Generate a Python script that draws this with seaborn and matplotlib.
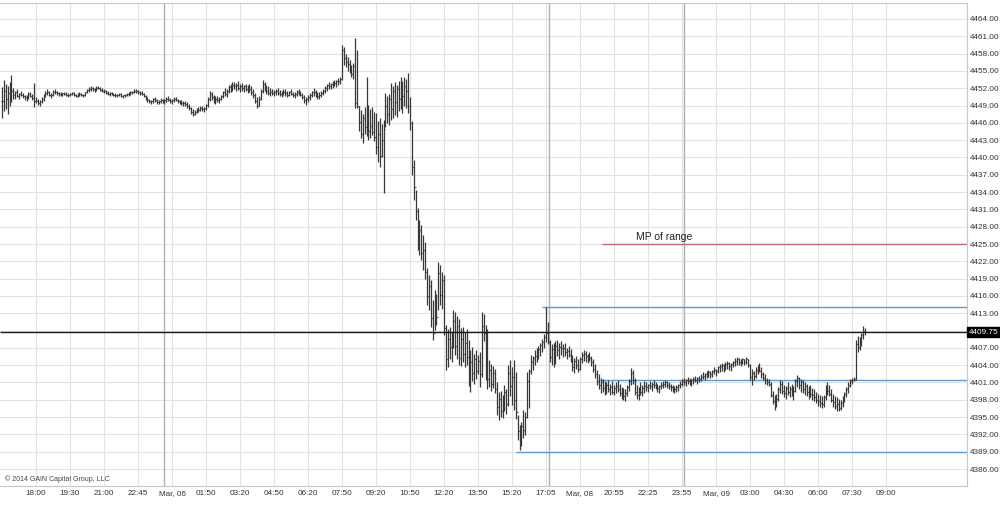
import numpy as np
import matplotlib
matplotlib.use('Agg')
import matplotlib.pyplot as plt
import matplotlib.transforms as mtransforms
from matplotlib import font_manager
import seaborn as sns

high = [
    4452.2, 4453.4, 4452.8, 4452.4, 4453.0, 4454.3, 4452.0, 4451.6, 4451.8, 4451.2,
    4451.5, 4451.1, 4450.9, 4450.8, 4451.3, 4451.4, 4451.0, 4452.9, 4450.4, 4450.2,
    4450.0, 4450.5, 4451.0, 4451.6, 4451.9, 4451.6, 4451.2, 4451.7, 4451.8, 4451.6,
    4451.4, 4451.3, 4451.2, 4451.4, 4451.3, 4451.1, 4451.2, 4451.4, 4451.3, 4451.0,
    4451.1, 4451.3, 4451.2, 4451.0, 4451.4, 4451.9, 4452.2, 4452.4, 4452.2, 4452.1,
    4452.3, 4452.4, 4452.2, 4452.0, 4451.9, 4451.7, 4451.5, 4451.3, 4451.4, 4451.2,
    4451.1, 4451.0, 4451.2, 4451.1, 4450.9, 4451.0, 4451.2, 4451.3, 4451.5, 4451.6,
    4451.8, 4451.9, 4451.7, 4451.6, 4451.5, 4451.2, 4450.8, 4450.4, 4450.2, 4450.0,
    4450.3, 4450.4, 4450.1, 4450.0, 4450.3, 4450.2, 4450.1, 4450.4, 4450.6, 4450.3,
    4450.1, 4450.4, 4450.5, 4450.2, 4450.0, 4449.9, 4449.8, 4449.7, 4449.6, 4449.2,
    4448.8, 4448.4, 4448.2, 4448.5, 4448.7, 4448.9, 4449.0, 4448.8, 4449.3, 4450.4,
    4451.5, 4451.3, 4450.8, 4450.6, 4450.7, 4450.4, 4450.9, 4451.6, 4452.0, 4451.9,
    4452.6, 4452.8, 4453.0, 4453.1, 4452.9, 4453.2, 4452.8, 4452.9, 4452.6, 4452.8,
    4452.5, 4452.7, 4452.3, 4451.8, 4451.2, 4450.4, 4450.6, 4451.8, 4453.4, 4453.0,
    4452.6, 4452.3, 4452.0, 4451.9, 4451.7, 4451.9, 4452.0, 4451.7, 4451.6, 4451.8,
    4451.9, 4451.5, 4451.6, 4451.8, 4451.4, 4451.3, 4451.7, 4451.9, 4451.6, 4451.2,
    4450.8, 4450.5, 4450.9, 4451.2, 4451.6, 4452.0, 4451.7, 4451.4, 4451.3, 4451.6,
    4451.9, 4452.4, 4452.8, 4453.1, 4452.9, 4453.3, 4453.5, 4453.4, 4453.8, 4454.0,
    4459.5, 4459.2, 4458.0, 4457.4, 4456.9, 4456.0, 4456.4, 4460.7, 4458.6, 4448.9,
    4448.2, 4447.6, 4448.7, 4454.0, 4449.1, 4448.4, 4448.8, 4447.9, 4447.7, 4446.4,
    4446.9, 4445.8, 4446.5, 4451.2, 4450.7, 4451.0, 4452.9, 4452.4, 4453.0, 4452.6,
    4453.3, 4454.0, 4453.2, 4454.0, 4453.6, 4454.6, 4450.5, 4446.4, 4439.6, 4434.4,
    4431.3, 4429.2, 4428.3, 4426.6, 4425.4, 4420.8, 4419.6, 4418.8, 4415.3, 4417.0,
    4416.4, 4421.9, 4421.4, 4420.2, 4419.6, 4411.0, 4410.3, 4410.7, 4409.8, 4413.6,
    4413.2, 4412.5, 4412.0, 4410.4, 4410.6, 4409.8, 4410.2, 4408.4, 4406.6, 4407.2,
    4406.0, 4406.6, 4405.8, 4406.2, 4413.3, 4412.8, 4411.0, 4410.2, 4404.9, 4404.2,
    4403.8, 4403.4, 4401.0, 4399.3, 4399.6, 4398.8, 4400.6, 4399.8, 4404.0, 4404.9,
    4403.6, 4404.9, 4402.8, 4395.4, 4393.6, 4394.2, 4396.2, 4395.8, 4402.8, 4403.4,
    4405.8, 4405.6, 4406.6, 4406.9, 4407.4, 4407.9, 4408.6, 4409.4, 4414.1, 4411.4,
    4408.4, 4407.6, 4407.8, 4408.2, 4408.4, 4407.9, 4408.2, 4407.6, 4407.9, 4407.0,
    4407.4, 4406.8, 4405.8, 4405.2, 4405.6, 4405.0, 4405.4, 4406.2, 4406.6, 4406.4,
    4406.0, 4406.2, 4405.6, 4405.0, 4404.2, 4403.2, 4402.4, 4401.8, 4401.6, 4401.2,
    4401.0, 4401.4, 4400.8, 4401.2, 4400.6, 4401.0, 4401.4, 4400.8, 4400.2, 4400.0,
    4399.8, 4400.6, 4401.6, 4403.5, 4403.2, 4401.8, 4400.6, 4400.2, 4401.0, 4400.6,
    4401.2, 4401.0, 4400.8, 4401.2, 4401.0, 4401.4, 4401.0, 4400.8, 4400.6, 4401.0,
    4401.2, 4401.4, 4401.2, 4401.0, 4400.8, 4400.6, 4400.4, 4400.6, 4400.8, 4401.2,
    4401.6, 4401.8, 4401.6, 4402.0, 4401.8, 4401.6, 4402.0, 4402.2, 4402.0, 4402.2,
    4402.4, 4402.8, 4402.6, 4403.0, 4403.2, 4403.0, 4403.2, 4403.6, 4403.4, 4403.8,
    4404.2, 4404.4, 4404.2, 4404.6, 4404.8, 4404.6, 4404.4, 4404.8, 4405.2, 4405.4,
    4405.2, 4405.0, 4405.2, 4405.1, 4405.4, 4405.0, 4404.2, 4403.4, 4403.0, 4403.6,
    4404.0, 4404.4, 4403.6, 4402.8, 4402.4, 4401.8, 4401.6, 4401.0, 4399.6, 4398.8,
    4399.0, 4400.2, 4401.4, 4401.2, 4400.6, 4400.4, 4401.0, 4400.4, 4400.8, 4400.4,
    4401.6, 4402.3, 4402.0, 4401.6, 4401.4, 4401.0, 4400.8, 4400.4, 4400.6, 4400.0,
    4399.8, 4399.4, 4399.0, 4398.8, 4398.6, 4398.8, 4400.6, 4401.0, 4400.6, 4399.8,
    4399.0, 4398.6, 4398.4, 4398.2, 4398.0, 4398.6, 4399.4, 4400.2, 4401.0, 4401.6,
    4401.8, 4402.0, 4408.4, 4409.0, 4408.8, 4409.6, 4410.8, 4410.4,
]

low = [
    4446.9, 4448.0, 4448.4, 4447.6, 4449.0, 4449.6, 4450.2, 4450.1, 4450.5, 4450.2,
    4450.6, 4450.3, 4450.0, 4449.8, 4450.2, 4450.5, 4450.0, 4448.7, 4449.4, 4449.1,
    4449.0, 4449.4, 4449.8, 4450.4, 4450.9, 4450.6, 4450.3, 4450.6, 4451.0, 4450.8,
    4450.7, 4450.6, 4450.6, 4450.8, 4450.7, 4450.5, 4450.6, 4450.8, 4450.7, 4450.4,
    4450.5, 4450.7, 4450.6, 4450.4, 4450.7, 4451.1, 4451.4, 4451.6, 4451.5, 4451.4,
    4451.6, 4451.8, 4451.5, 4451.3, 4451.2, 4451.0, 4450.8, 4450.7, 4450.8, 4450.6,
    4450.5, 4450.4, 4450.6, 4450.5, 4450.3, 4450.4, 4450.6, 4450.7, 4450.9, 4451.0,
    4451.1, 4451.2, 4451.0, 4450.9, 4450.8, 4450.4, 4450.0, 4449.6, 4449.4, 4449.2,
    4449.5, 4449.6, 4449.3, 4449.2, 4449.5, 4449.4, 4449.3, 4449.6, 4449.8, 4449.5,
    4449.3, 4449.6, 4449.7, 4449.4, 4449.2, 4449.1, 4449.0, 4448.9, 4448.6, 4448.2,
    4447.6, 4447.2, 4447.4, 4447.7, 4447.9, 4448.0, 4448.1, 4447.9, 4448.3, 4448.8,
    4449.8, 4450.0, 4449.4, 4449.2, 4449.6, 4449.5, 4449.9, 4450.3, 4450.6, 4450.4,
    4451.2, 4451.4, 4451.5, 4451.8, 4451.6, 4451.7, 4451.4, 4451.6, 4451.3, 4451.5,
    4451.2, 4451.4, 4450.9, 4450.3, 4449.4, 4448.6, 4448.9, 4449.9, 4451.2, 4451.5,
    4451.0, 4450.9, 4450.6, 4450.8, 4450.6, 4450.9, 4450.8, 4450.6, 4450.5, 4450.9,
    4450.7, 4450.5, 4450.6, 4450.8, 4450.4, 4450.3, 4450.6, 4450.9, 4450.6, 4450.1,
    4449.5, 4449.1, 4449.6, 4449.9, 4450.4, 4450.7, 4450.5, 4450.2, 4450.1, 4450.4,
    4450.8, 4451.2, 4451.6, 4451.9, 4451.8, 4452.1, 4452.3, 4452.2, 4452.6, 4452.7,
    4453.4, 4456.0, 4455.6, 4455.0, 4454.6, 4453.9, 4453.6, 4448.6, 4448.6, 4444.5,
    4443.4, 4442.5, 4444.0, 4443.8, 4443.0, 4443.4, 4443.9, 4442.8, 4440.6, 4439.2,
    4438.4, 4440.0, 4433.8, 4445.3, 4446.0, 4445.6, 4446.5, 4446.9, 4447.3, 4447.0,
    4448.0, 4448.4, 4447.7, 4449.0, 4448.5, 4447.7, 4444.8, 4437.0, 4432.6, 4429.2,
    4424.0, 4423.1, 4422.2, 4420.5, 4419.0, 4414.4, 4413.6, 4410.6, 4408.4, 4410.1,
    4411.0, 4413.6, 4414.4, 4413.8, 4409.2, 4403.2, 4403.6, 4405.0, 4404.6, 4407.0,
    4405.8, 4405.0, 4404.0, 4403.8, 4404.6, 4403.6, 4404.0, 4400.4, 4399.4, 4401.2,
    4400.8, 4401.6, 4402.4, 4400.2, 4402.0, 4408.2, 4401.5, 4399.8, 4400.2, 4399.6,
    4400.0, 4399.2, 4395.4, 4394.5, 4395.0, 4394.8, 4396.0, 4395.6, 4397.0, 4398.6,
    4397.1, 4396.2, 4394.6, 4391.0, 4389.3, 4390.0, 4391.4, 4391.9, 4394.8, 4396.6,
    4402.4, 4403.2, 4404.0, 4404.6, 4405.0, 4405.6, 4406.2, 4407.0, 4408.0, 4407.6,
    4404.6, 4404.0, 4403.7, 4404.2, 4405.6, 4405.0, 4405.8, 4405.4, 4405.6, 4405.0,
    4405.4, 4404.6, 4403.0, 4402.6, 4403.4, 4402.8, 4403.2, 4404.4, 4404.8, 4404.6,
    4404.4, 4404.8, 4403.8, 4402.8, 4401.8, 4400.6, 4399.8, 4399.2, 4399.4, 4398.8,
    4399.0, 4399.4, 4398.8, 4399.0, 4398.8, 4399.2, 4399.4, 4398.6, 4398.2, 4398.0,
    4397.8, 4398.6, 4399.6, 4400.6, 4400.8, 4398.8, 4398.2, 4398.0, 4398.8, 4398.6,
    4399.2, 4399.6, 4399.4, 4399.8, 4399.6, 4400.0, 4399.8, 4399.4, 4399.2, 4399.8,
    4400.0, 4400.2, 4400.0, 4399.8, 4399.6, 4399.4, 4399.2, 4399.4, 4399.6, 4400.0,
    4400.4, 4400.6, 4400.4, 4400.8, 4400.6, 4400.4, 4400.8, 4401.0, 4400.8, 4401.0,
    4401.2, 4401.6, 4401.4, 4401.8, 4402.0, 4401.8, 4402.0, 4402.4, 4402.2, 4402.6,
    4402.8, 4403.0, 4402.8, 4403.2, 4403.4, 4403.2, 4403.0, 4403.6, 4403.8, 4404.0,
    4404.0, 4403.8, 4404.2, 4404.0, 4404.2, 4403.6, 4401.4, 4400.6, 4401.4, 4401.8,
    4402.4, 4402.8, 4401.8, 4401.4, 4400.8, 4400.6, 4400.4, 4398.4, 4397.2, 4396.2,
    4396.8, 4397.8, 4399.2, 4399.0, 4398.4, 4398.2, 4398.8, 4398.4, 4398.6, 4398.0,
    4399.4, 4400.2, 4399.8, 4399.4, 4399.2, 4398.8, 4398.6, 4398.2, 4398.4, 4398.0,
    4397.8, 4397.4, 4397.0, 4396.8, 4396.6, 4396.8, 4398.0, 4398.8, 4398.6, 4397.6,
    4396.8, 4396.4, 4396.0, 4396.0, 4396.2, 4396.8, 4397.6, 4398.4, 4399.2, 4400.2,
    4400.8, 4401.2, 4401.4, 4406.2, 4406.6, 4407.4, 4408.6, 4409.2,
]

close = [
    4449.8, 4451.6, 4450.1, 4451.2, 4450.4, 4451.5, 4450.9, 4451.3, 4450.7, 4451.0,
    4450.8, 4450.6, 4450.4, 4450.6, 4451.0, 4450.7, 4450.3, 4449.8, 4449.7, 4449.5,
    4449.8, 4450.2, 4450.7, 4451.2, 4451.4, 4450.9, 4450.8, 4451.4, 4451.3, 4451.1,
    4451.0, 4450.9, 4451.1, 4451.0, 4450.9, 4450.8, 4451.0, 4451.2, 4450.9, 4450.7,
    4450.9, 4451.0, 4450.8, 4450.9, 4451.3, 4451.7, 4451.9, 4452.0, 4451.8, 4451.9,
    4452.1, 4452.0, 4451.7, 4451.6, 4451.5, 4451.2, 4451.0, 4451.1, 4451.0, 4450.9,
    4450.8, 4450.9, 4451.0, 4450.7, 4450.8, 4450.9, 4451.0, 4451.1, 4451.3, 4451.4,
    4451.6, 4451.5, 4451.3, 4451.2, 4451.0, 4450.6, 4450.2, 4449.9, 4449.7, 4449.8,
    4450.1, 4449.9, 4449.6, 4449.8, 4450.0, 4449.7, 4449.9, 4450.2, 4450.0, 4449.8,
    4449.9, 4450.1, 4449.9, 4449.7, 4449.6, 4449.5, 4449.4, 4449.3, 4448.9, 4448.5,
    4447.9, 4447.6, 4447.9, 4448.2, 4448.3, 4448.6, 4448.4, 4448.5, 4449.1, 4450.1,
    4451.0, 4450.4, 4449.8, 4450.2, 4450.0, 4450.1, 4450.6, 4451.3, 4451.0, 4451.6,
    4452.2, 4451.9, 4452.6, 4452.3, 4452.5, 4452.1, 4452.4, 4452.0, 4452.3, 4451.9,
    4452.2, 4451.8, 4451.4, 4450.8, 4449.8, 4449.0, 4450.2, 4451.5, 4452.8, 4452.0,
    4451.6, 4451.2, 4451.4, 4451.1, 4451.3, 4451.5, 4451.2, 4451.0, 4451.3, 4451.4,
    4451.1, 4450.9, 4451.3, 4451.0, 4450.8, 4451.0, 4451.4, 4451.2, 4450.9, 4450.4,
    4449.9, 4450.2, 4450.5, 4450.8, 4451.3, 4451.4, 4451.0, 4450.7, 4450.9, 4451.2,
    4451.6, 4452.0, 4452.5, 4452.4, 4452.7, 4453.0, 4452.9, 4453.2, 4453.3, 4453.6,
    4458.7, 4457.2, 4456.6, 4456.2, 4455.3, 4454.5, 4455.8, 4449.5, 4449.0, 4446.1,
    4444.0, 4446.8, 4445.2, 4447.0, 4444.6, 4445.5, 4444.4, 4443.5, 4441.8, 4444.0,
    4440.2, 4443.1, 4445.0, 4449.0, 4447.5, 4450.1, 4448.4, 4451.6, 4449.6, 4451.9,
    4450.2, 4452.8, 4450.6, 4452.4, 4451.5, 4448.9, 4446.0, 4438.4, 4434.8, 4430.8,
    4426.2, 4427.4, 4423.4, 4424.0, 4420.2, 4416.0, 4417.8, 4412.2, 4409.5, 4415.2,
    4412.4, 4420.0, 4416.2, 4418.8, 4410.5, 4405.0, 4408.6, 4407.2, 4408.9, 4411.7,
    4407.4, 4410.8, 4405.3, 4408.5, 4406.0, 4407.9, 4405.4, 4402.0, 4404.5, 4402.7,
    4405.0, 4403.0, 4404.8, 4402.5, 4410.8, 4409.6, 4403.0, 4401.6, 4403.2, 4400.8,
    4402.6, 4399.8, 4396.8, 4398.2, 4396.0, 4397.6, 4399.4, 4397.2, 4402.6, 4400.4,
    4402.0, 4398.0, 4395.8, 4392.6, 4390.8, 4393.4, 4392.8, 4395.0, 4401.2, 4403.0,
    4404.6, 4405.2, 4405.6, 4406.4, 4406.8, 4407.5, 4408.0, 4408.8, 4409.6, 4408.1,
    4405.4, 4406.8, 4404.6, 4407.4, 4406.6, 4407.2, 4406.9, 4407.0, 4406.2, 4406.4,
    4405.8, 4405.0, 4403.6, 4404.8, 4404.0, 4403.4, 4405.0, 4405.8, 4406.0, 4405.6,
    4405.8, 4405.2, 4404.6, 4403.4, 4402.4, 4401.2, 4400.6, 4401.0, 4400.0, 4399.6,
    4400.6, 4399.8, 4400.2, 4399.4, 4400.0, 4400.4, 4399.8, 4399.2, 4399.0, 4398.6,
    4399.2, 4400.2, 4401.2, 4402.6, 4401.4, 4399.4, 4398.8, 4399.8, 4399.4, 4400.0,
    4400.4, 4400.2, 4400.6, 4400.4, 4400.8, 4400.6, 4400.2, 4400.0, 4400.4, 4400.6,
    4400.8, 4401.0, 4400.6, 4400.4, 4400.2, 4400.0, 4399.8, 4400.2, 4400.6, 4400.8,
    4401.2, 4401.0, 4401.4, 4401.2, 4401.0, 4401.4, 4401.6, 4401.4, 4401.8, 4401.6,
    4402.0, 4402.2, 4402.4, 4402.6, 4402.8, 4402.4, 4403.0, 4403.2, 4403.0, 4403.6,
    4403.8, 4404.0, 4403.6, 4404.2, 4404.4, 4403.8, 4404.2, 4404.6, 4404.8, 4405.0,
    4404.6, 4404.8, 4405.0, 4404.6, 4405.0, 4404.0, 4402.0, 4402.6, 4402.2, 4403.2,
    4403.6, 4403.0, 4402.4, 4401.8, 4401.4, 4401.0, 4400.8, 4398.8, 4397.8, 4397.6,
    4398.2, 4399.8, 4400.8, 4399.6, 4399.2, 4400.0, 4399.4, 4399.8, 4399.2, 4399.6,
    4401.2, 4401.8, 4400.6, 4401.0, 4399.8, 4400.4, 4399.4, 4399.8, 4399.0, 4398.8,
    4398.4, 4398.0, 4397.8, 4397.4, 4397.2, 4398.4, 4400.2, 4399.6, 4399.0, 4398.0,
    4397.6, 4397.0, 4397.2, 4396.6, 4397.4, 4398.2, 4399.0, 4399.8, 4400.6, 4401.2,
    4401.4, 4401.6, 4407.6, 4407.2, 4408.4, 4409.2, 4410.0, 4409.75,
]

time_labels = ["18:00", "19:30", "21:00", "22:45", "Mar, 06", "01:50", "03:20",
               "04:50", "06:20", "07:50", "09:20", "10:50", "12:20", "13:50",
               "15:20", "17:05", "Mar, 08", "20:55", "22:25", "23:55", "Mar, 09",
               "03:00", "04:30", "06:00", "07:30", "09:00"]
bars_per_label = 18
price_ticks = [4386 + 3 * k for k in range(27)]

last_price = 4409.75
range_high = 4414.0
range_mid = 4401.5
range_low = 4389.0
big_mid = 4425.0
# bar index where each drawn level line starts
level_starts = {"high": 285.9, "mid": 316.6, "low": 272.1, "big_mid": 317.6}
session_breaks = [85.8, 289.4, 360.8]

sns.set_theme(style="white")
plt.rcParams['font.family'] = ['Liberation Sans', 'DejaVu Sans']

installed = {f.name for f in font_manager.fontManager.ttflist}
if "Liberation Sans Narrow" in installed:
    tick_family = ["Liberation Sans Narrow"]
    tick_size = 7.0
else:
    tick_family = ["Liberation Sans"]
    tick_size = 5.9

W, H = 1000, 507
fig = plt.figure(figsize=(W / 100, H / 100), dpi=100)
ax = fig.add_axes([0.0, 21 / H, 967 / W, 483 / H])

n = min(len(high), len(low), len(close))
idx = np.arange(n)
hi = np.array(high[:n]); lo = np.array(low[:n]); cl = np.array(close[:n])
op = np.r_[cl[0], cl[:-1]]

x_left, x_right = -1.06, 510.85
y_bot, y_top = 4383.06, 4466.77

grid_c = "#e2e2e2"
for p in price_ticks:
    ax.axhline(p, color=grid_c, lw=0.8, zorder=0)
tick_pos = [bars_per_label * (k + 1) for k in range(len(time_labels))]
for t in tick_pos:
    ax.axvline(t, color=grid_c, lw=0.8, zorder=0)
for s in session_breaks:
    ax.axvline(s, color="#b0b0b0", lw=1.0, zorder=1)

bar_c = "#383838"
ax.vlines(idx, lo, hi, color=bar_c, lw=0.9, zorder=3)
ax.hlines(cl, idx, idx + 0.5, color=bar_c, lw=0.8, zorder=3)
ax.hlines(op, idx - 0.5, idx, color=bar_c, lw=0.8, zorder=3)

blue = "#5b9bd0"
ax.hlines(last_price, x_left, x_right, color="#1a1a1a", lw=1.0, zorder=4)
ax.hlines(range_high, level_starts["high"], x_right, color=blue, lw=1.0, zorder=2)
ax.hlines(range_mid, level_starts["mid"], x_right, color=blue, lw=1.0, zorder=2)
ax.hlines(range_low, level_starts["low"], x_right, color=blue, lw=1.0, zorder=2)
ax.hlines(big_mid, level_starts["big_mid"], x_right, color="#c46a72", lw=1.0, zorder=2)
ax.text(335.6, 4426.3, "MP of range", fontsize=7.5, color="#222222", va="center", ha="left")

ax.set_xlim(x_left, x_right)
ax.set_ylim(y_bot, y_top)

# x labels drawn as texts on a common baseline below the axis
ax.set_xticks(tick_pos)
ax.set_xticklabels([])
xlab_trans = mtransforms.blended_transform_factory(ax.transData, fig.transFigure)
for t, lab in zip(tick_pos, time_labels):
    ax.text(t, 1 - 495 / H, lab, transform=xlab_trans, family=tick_family,
            fontsize=tick_size, color="#333333", ha="center", va="baseline",
            clip_on=False)

ax.yaxis.tick_right()
ax.set_yticks(price_ticks)
ax.set_yticklabels(["" if abs(p - 4410) < 0.01 else f"{p:.2f}" for p in price_ticks],
                   family=tick_family)
ax.tick_params(axis="x", length=0)
ax.tick_params(axis="y", length=0, pad=2, labelsize=tick_size, labelcolor="#333333")

ax.spines["left"].set_visible(False)
for side in ["right", "bottom", "top"]:
    ax.spines[side].set_visible(True)
    ax.spines[side].set_color("#c8c8c8")
    ax.spines[side].set_linewidth(0.8)

trans = mtransforms.blended_transform_factory(ax.transAxes, ax.transData)
ax.text(1.002, last_price, f"{last_price:.2f}", transform=trans, fontsize=tick_size,
        family=tick_family, color="white", ha="left", va="center",
        bbox=dict(boxstyle="square,pad=0.2", fc="black", ec="black"))

fig.text(5 / W, 1 - 479 / H, "\u00a9 2014 GAIN Capital Group, LLC", fontsize=5,
         color="#444444", ha="left", va="center")

fig.savefig("out.png", dpi=100, facecolor="white")
